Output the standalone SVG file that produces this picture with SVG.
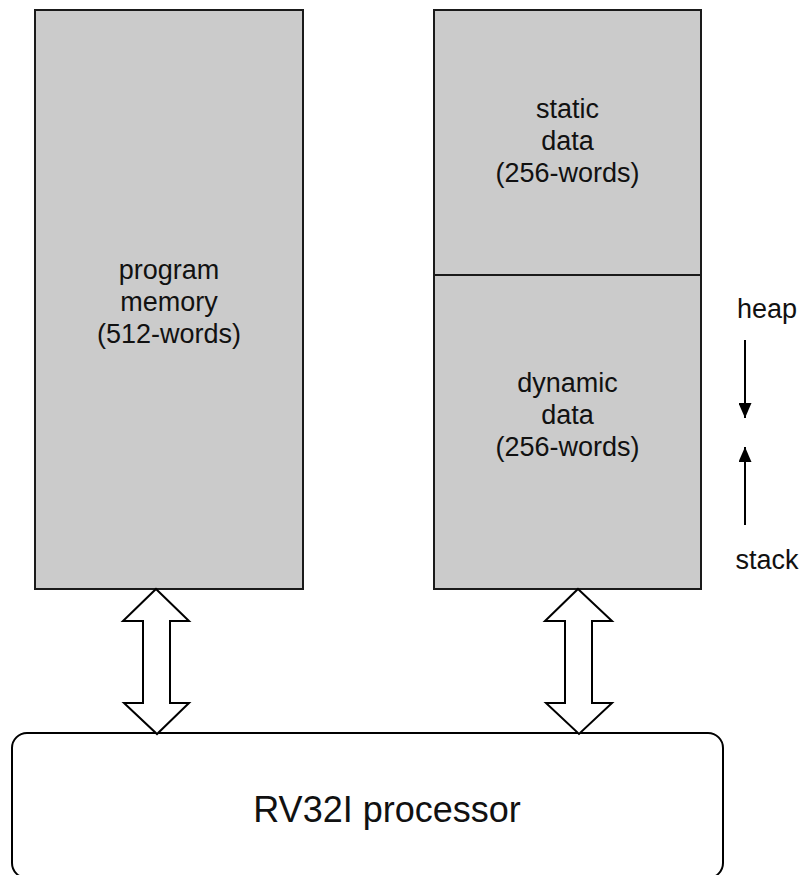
<svg xmlns="http://www.w3.org/2000/svg" width="805" height="875" viewBox="0 0 805 875">
<style>
.mem{fill:#cbcbcb;stroke:#1a1a1a;stroke-width:2}
.t{font-family:"Liberation Sans",Arial,sans-serif;font-size:27px;fill:#111;text-anchor:middle}
.big{font-size:36px}
.da{fill:#fff;stroke:#000;stroke-width:2;stroke-linejoin:miter}
.ln{stroke:#000;stroke-width:2;fill:none}
</style>
<defs>
<marker id="ah" viewBox="0 0 15 13" refX="15" refY="6.5" markerWidth="15" markerHeight="13" markerUnits="userSpaceOnUse" orient="auto">
<path d="M0,0 L15,6.5 L0,13 Z" fill="#000"/>
</marker>
</defs>
<g id="cpu">
<rect x="12" y="733" width="711" height="145" rx="15" ry="15" fill="#fff" stroke="#000" stroke-width="2"/>
<text class="t big" x="387" y="822">RV32I processor</text>
</g>
<g id="program-memory">
<rect class="mem" x="35" y="10" width="268" height="579"/>
<text class="t" x="169" y="279">program</text>
<text class="t" x="169" y="311">memory</text>
<text class="t" x="169" y="343">(512-words)</text>
</g>
<g id="static-data">
<rect class="mem" x="434" y="10" width="267" height="265"/>
<text class="t" x="567.5" y="118">static</text>
<text class="t" x="567.5" y="150">data</text>
<text class="t" x="567.5" y="182">(256-words)</text>
</g>
<g id="dynamic-data">
<rect class="mem" x="434" y="275" width="267" height="314"/>
<text class="t" x="567.5" y="392">dynamic</text>
<text class="t" x="567.5" y="424">data</text>
<text class="t" x="567.5" y="456">(256-words)</text>
</g>
<g id="heap-label"><text class="t" x="767" y="318">heap</text></g>
<g id="stack-label"><text class="t" x="767" y="569">stack</text></g>
<g id="connectors">
<path class="da" d="M156,589 L189,621 L170,621 L170,703 L189,703 L157,734 L124,703 L143,703 L143,621 L123,621 Z"/>
<path class="da" d="M578,589 L612,621 L592,621 L592,703 L612,703 L579,734 L546,703 L565,703 L565,621 L545,621 Z"/>
<line class="ln" x1="745" y1="340" x2="745" y2="418" marker-end="url(#ah)"/>
<line class="ln" x1="745" y1="525" x2="745" y2="447" marker-end="url(#ah)"/>
</g>
</svg>
